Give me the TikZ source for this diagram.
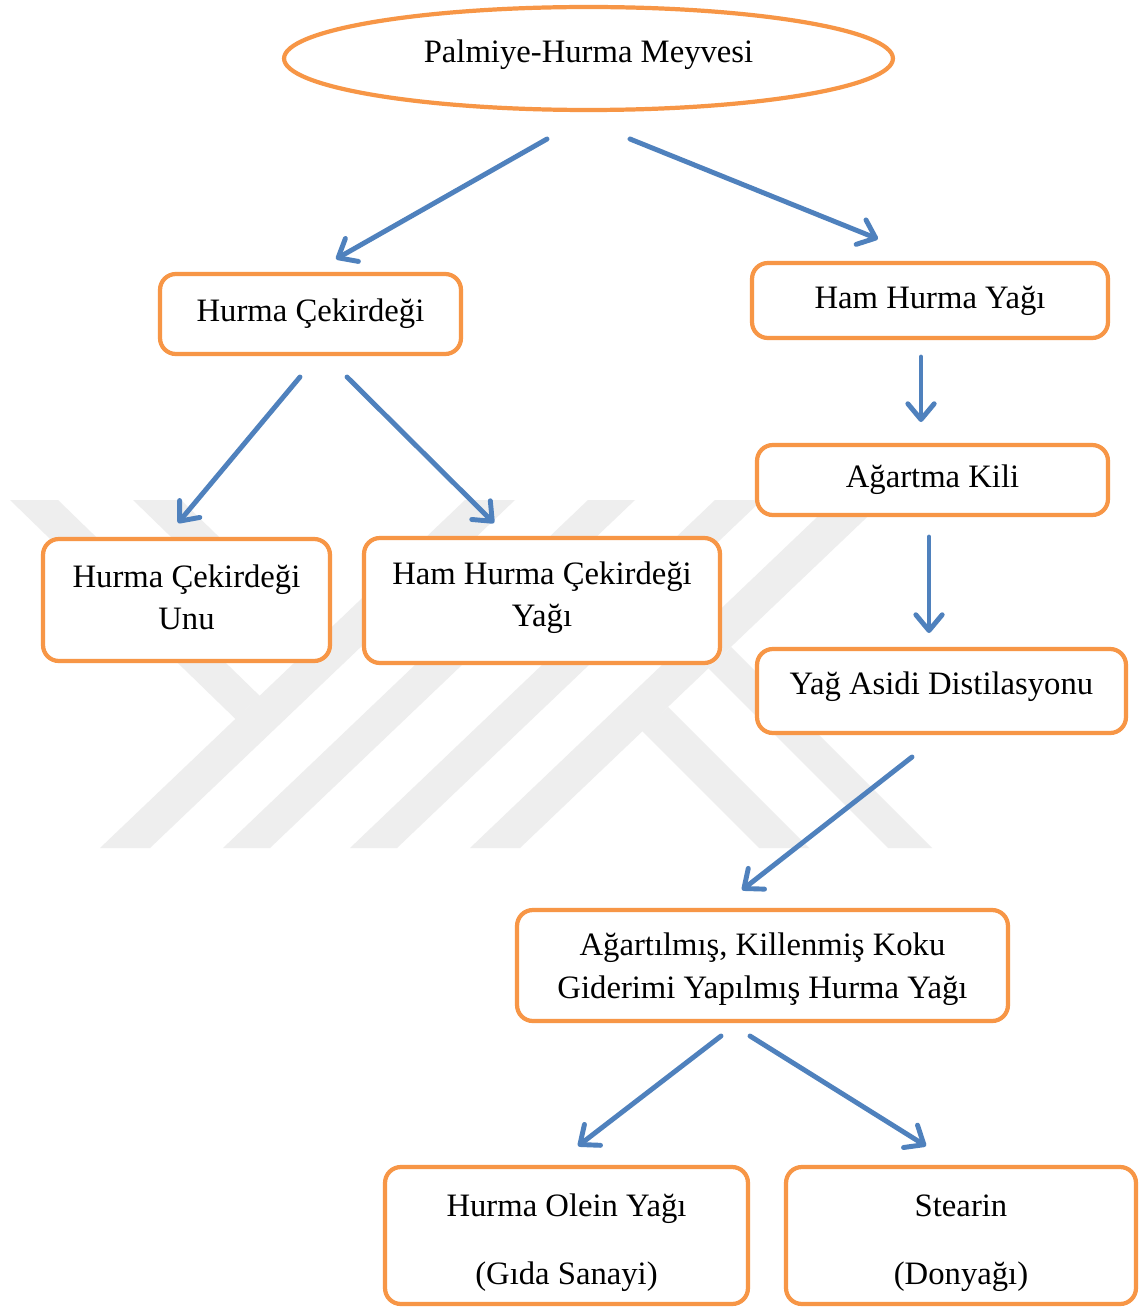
\documentclass[tikz,border=0pt]{standalone}
\usepackage{fontspec}
\setmainfont{Liberation Serif}
\usetikzlibrary{shapes.geometric,arrows.meta}
\definecolor{borange}{HTML}{F79646}
\definecolor{bblue}{HTML}{4F81BD}
\definecolor{wmgray}{HTML}{EEEEEE}
\newcommand{\dstrut}[1]{\rule[-#1]{0pt}{#1}}
\newcommand{\hstrut}[1]{\rule{0pt}{#1}}
\begin{document}
\begin{tikzpicture}[x=0.02cm,y=-0.02cm,
  box/.style={draw=borange, line width=2.4pt, rounded corners=9pt, fill=white,
    align=center, inner sep=0pt, font=\fontsize{18.6}{23.8}\selectfont},
  tallbox/.style={box, font=\fontsize{18.6}{38.6}\selectfont},
  oval/.style={ellipse, draw=borange, line width=2.4pt, fill=white, inner sep=0pt,
    font=\fontsize{18.6}{23.8}\selectfont},
  arr/.style={draw=bblue, line width=2.8pt, line cap=round, line join=round,
    -{Straight Barb[length=9pt,width=15pt,line join=round,line cap=round]}},
  wm/.style={fill=wmgray, draw=none}]
\useasboundingbox (0,0) rectangle (1142,1311);
\fill[white] (0,0) rectangle (1142,1311);

% watermark
\path[wm] (100,848) -- (150,848) -- (515,500) -- (465,500) -- cycle;
\path[wm] (223,848) -- (270,848) -- (635,500) -- (588,500) -- cycle;
\path[wm] (350,848) -- (397,848) -- (762,500) -- (715,500) -- cycle;
\path[wm] (470,848) -- (520,848) -- (885,500) -- (835,500) -- cycle;
\path[wm] (10,500) -- (58,500) -- (259.8,695.9) -- (235.5,719) -- cycle;
\path[wm] (133,500) -- (181,500) -- (321,636) -- (297.6,659.8) -- cycle;
\path[wm] (642,731) -- (668,707) -- (809,848) -- (759,848) -- cycle;
\path[wm] (708.5,668.5) -- (731,647) -- (932,848) -- (888,848) -- cycle;

% nodes
\node[oval, minimum width=12.18cm, minimum height=2.06cm] (pm) at (588.5,58.5) {Palmiye-Hurma Meyvesi\dstrut{8.5pt}};
\node[box, minimum width=6.02cm, minimum height=1.60cm] (hc) at (310.5,314) {Hurma Çekirdeği};
\node[box, minimum width=7.12cm, minimum height=1.50cm] (hhy) at (930,300.5) {Ham Hurma Yağı};
\node[box, minimum width=7.02cm, minimum height=1.40cm] (ak) at (932.5,480) {Ağartma Kili};
\node[box, minimum width=5.74cm, minimum height=2.44cm] (hcu) at (186.5,600) {Hurma Çekirdeği\\Unu\dstrut{3.4pt}};
\node[box, minimum width=7.12cm, minimum height=2.50cm] (hhcy) at (542,600.5) {Ham Hurma Çekirdeği\\Yağı\dstrut{7.3pt}};
\node[box, minimum width=7.38cm, minimum height=1.68cm] (yad) at (941.5,691) {Yağ Asidi Distilasyonu\dstrut{8.5pt}};
\node[box, minimum width=9.82cm, minimum height=2.22cm, font=\fontsize{18.6}{24.4}\selectfont] (agk) at (762.5,965.5) {\hstrut{17pt}Ağartılmış, Killenmiş Koku\\Giderimi Yapılmış Hurma Yağı};
\node[tallbox, minimum width=7.26cm, minimum height=2.74cm] (hoy) at (566.5,1235.5) {\hstrut{20.7pt}Hurma Olein Yağı\\(Gıda Sanayi)};
\node[tallbox, minimum width=7.00cm, minimum height=2.74cm] (st) at (961,1235.5) {\hstrut{20.7pt}Stearin\\(Donyağı)};

% arrow end points
\coordinate (a1s) at (547,139);  \coordinate (a1e) at (336,259);
\coordinate (a2s) at (630,139);  \coordinate (a2e) at (878,239);
\coordinate (a3s) at (300,377);  \coordinate (a3e) at (178,523);
\coordinate (a4s) at (347,377);  \coordinate (a4e) at (494,523);
\coordinate (a5s) at (921,357);  \coordinate (a5e) at (921,422);
\coordinate (a6s) at (929,537);  \coordinate (a6e) at (929,633);
\coordinate (a7s) at (912,757);  \coordinate (a7e) at (742,890);
\coordinate (a8s) at (721,1036); \coordinate (a8e) at (578,1146);
\coordinate (a9s) at (750,1036); \coordinate (a9e) at (926,1146);

\draw[arr] (a1s) -- (a1e);
\draw[arr] (a2s) -- (a2e);
\draw[arr] (a3s) -- (a3e);
\draw[arr] (a4s) -- (a4e);
\draw[arr] (a5s) -- (a5e);
\draw[arr] (a6s) -- (a6e);
\draw[arr] (a7s) -- (a7e);
\draw[arr] (a8s) -- (a8e);
\draw[arr] (a9s) -- (a9e);
\end{tikzpicture}
\end{document}
